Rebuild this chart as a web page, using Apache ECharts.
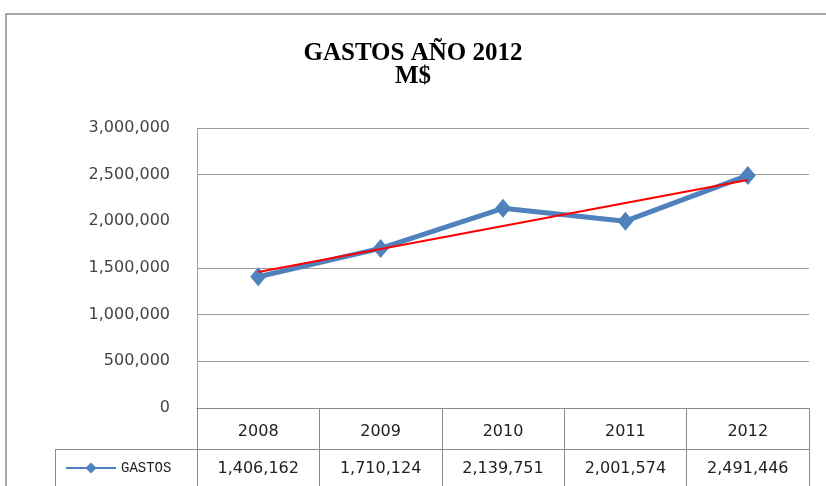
<!DOCTYPE html>
<html>
<head>
<meta charset="utf-8">
<script src="https://cdn.jsdelivr.net/npm/echarts@6/dist/echarts.min.js"></script>
<style>html,body{margin:0;padding:0;background:#fff}#c{width:826px;height:486px}</style>
</head>
<body>
<div id="c"></div>
<script>
const categories = ['2008', '2009', '2010', '2011', '2012'];
const gastos = [1406162, 1710124, 2139751, 2001574, 2491446];
const trendValues = [1457400, null, null, null, 2442200];
const yTicks = { min: 0, max: 3000000, interval: 500000 };

const fmt = v => Number(v).toLocaleString('en-US');
const gridGray = '#9a9a9a';
const tableGray = '#8a8a8a';
const labelFont = 'DejaVu Sans';

const chart = echarts.init(document.getElementById('c'));
chart.setOption({
  animation: false,
  backgroundColor: '#fff',
  title: {
    text: 'GASTOS AÑO 2012\nM$',
    left: 'center',
    top: 42,
    padding: [0, 0, 0, 16],
    textStyle: {
      fontFamily: 'Liberation Serif',
      fontWeight: 'bold',
      fontSize: 25,
      lineHeight: 23,
      color: '#000'
    }
  },
  legend: {
    data: ['GASTOS'],
    left: 60,
    top: 456,
    itemWidth: 50,
    itemHeight: 14,
    itemGap: 6,
    textStyle: { fontFamily: 'Liberation Mono', fontSize: 14, color: '#222' }
  },
  grid: { left: 197, right: 17, top: 128, bottom: 78, containLabel: false },
  xAxis: [
    {
      type: 'category',
      data: categories,
      position: 'bottom',
      boundaryGap: true,
      axisLine: { show: true, lineStyle: { color: tableGray, width: 1 } },
      axisTick: { show: true, alignWithLabel: false, length: 100, lineStyle: { color: tableGray } },
      axisLabel: { margin: 16, fontFamily: labelFont, fontSize: 16, color: '#222' },
      splitLine: { show: false }
    },
    {
      type: 'category',
      data: gastos.map(fmt),
      position: 'bottom',
      offset: 41,
      boundaryGap: true,
      axisLine: { show: true, lineStyle: { color: tableGray, width: 1 } },
      axisTick: { show: false },
      axisLabel: { margin: 12, fontFamily: labelFont, fontSize: 16, color: '#222' },
      splitLine: { show: false }
    }
  ],
  yAxis: {
    type: 'value',
    min: yTicks.min,
    max: yTicks.max,
    interval: yTicks.interval,
    axisLine: { show: true, lineStyle: { color: gridGray } },
    axisTick: { show: false },
    axisLabel: { margin: 27, formatter: fmt, fontFamily: labelFont, fontSize: 16, color: '#444' },
    splitLine: {
      show: true,
      lineStyle: { color: [gridGray, gridGray, gridGray, gridGray, 'rgba(0,0,0,0)', gridGray, gridGray], width: 1 }
    }
  },
  graphic: [
    { type: 'rect', shape: { x: 6, y: 14, width: 900, height: 600 }, style: { fill: 'none', stroke: '#8c8c8c', lineWidth: 1.5 }, silent: true, z: -10 },
    { type: 'line', shape: { x1: 55, y1: 449.5, x2: 197, y2: 449.5 }, style: { stroke: tableGray, lineWidth: 1 }, silent: true },
    { type: 'line', shape: { x1: 55.5, y1: 449, x2: 55.5, y2: 500 }, style: { stroke: tableGray, lineWidth: 1 }, silent: true }
  ],
  series: [
    {
      name: 'GASTOS',
      type: 'line',
      data: gastos,
      xAxisIndex: 0,
      symbol: 'diamond',
      symbolSize: [16, 19],
      lineStyle: { color: '#4F81BD', width: 5 },
      itemStyle: { color: '#4F81BD' },
      z: 2
    },
    {
      name: 'Lineal (GASTOS)',
      type: 'line',
      data: trendValues,
      xAxisIndex: 0,
      connectNulls: true,
      symbol: 'none',
      lineStyle: { color: '#FF0000', width: 2 },
      itemStyle: { color: '#FF0000' },
      z: 3
    }
  ]
});
</script>
</body>
</html>
